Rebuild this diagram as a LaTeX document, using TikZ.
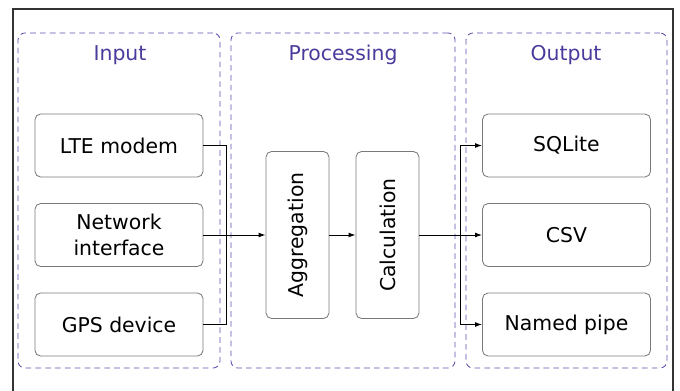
\documentclass[tikz,border=0pt]{standalone}
\usepackage{fontspec}
\setmainfont{DejaVu Sans}
\usepackage{tikz}
\usetikzlibrary{positioning,arrows.meta}
\definecolor{groupline}{HTML}{5B4EAE}
\definecolor{grouptitle}{HTML}{4A3C9C}
\definecolor{blockline}{HTML}{7A7A7A}

\begin{document}
\begin{tikzpicture}[x=0.025cm,y=-0.025cm,
  group/.style={draw=groupline,dash pattern=on 4pt off 3pt,rounded corners=5pt,
    minimum width=5.05cm,minimum height=8.375cm,line width=0.6pt},
  grouptext/.style={text=grouptitle,font=\fontsize{14.5}{17}\selectfont},
  block/.style={draw=blockline,rounded corners=4pt,minimum width=4.2cm,
    minimum height=1.575cm,align=center,font=\fontsize{14.5}{19}\selectfont,line width=0.6pt},
  stage/.style={block,minimum width=4.175cm,rotate=90},
  link/.style={line width=0.7pt},
  arrow/.style={link,-{Latex[length=5pt,width=3.5pt]}}]
\clip (0,0) rectangle (680,390);
\useasboundingbox (0,0) rectangle (680,390);
\draw[line width=0.9pt,draw=black!80] (13,9) rectangle (673,420);

% groups
\node[group] (input) at (119,200.5) {};
\node[group,minimum width=5.6cm] (processing) at (343,200.5) {};
\node[group,minimum width=5.025cm] (output) at (566.5,200.5) {};
\node[grouptext] (inputtitle) at (120,55) {Input};
\node[grouptext] (processingtitle) at (343,55) {Processing};
\node[grouptext] (outputtitle) at (566,55) {Output};

% sources
\node[block] (lte) at (119,145.5) {LTE modem};
\node[block] (net) at (119,235) {Network\\interface};
\node[block] (gps) at (119,324.5) {GPS device};

% stages
\node[stage] (agg) at (297.5,235) {Aggregation};
\node[stage] (calc) at (387.5,235) {Calculation};

% sinks
\node[block] (sqlite) at (566.5,145.5) {SQLite};
\node[block] (csv) at (566.5,235) {CSV};
\node[block] (pipe) at (566.5,324.5) {Named pipe};

\coordinate (join) at (226,235);
\coordinate (split) at (460,235);

\draw[link] (lte.east) -| (join);
\draw[link] (gps.east) -| (join);
\draw[arrow] (net.east) -- (agg.north);
\draw[arrow] (agg.south) -- (calc.north);
\draw[arrow] (calc.south) -- (csv.west);
\draw[arrow] (split) |- (sqlite.west);
\draw[arrow] (split) |- (pipe.west);
\end{tikzpicture}
\end{document}
